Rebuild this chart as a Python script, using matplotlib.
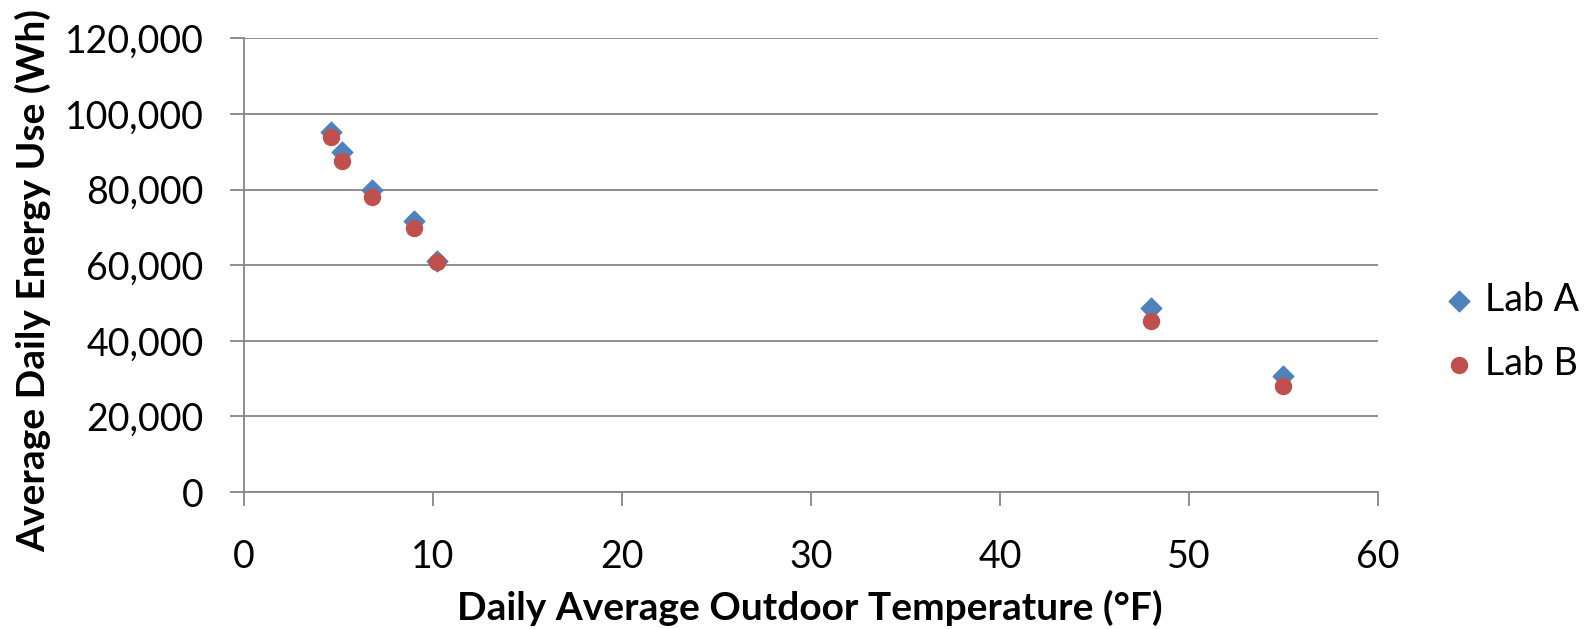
import matplotlib
matplotlib.use('Agg')
import matplotlib.pyplot as plt
from matplotlib.ticker import FuncFormatter

plt.rcParams['font.family'] = ['Lato', 'DejaVu Sans']

# Outdoor temperature (F)
temp = [4.6, 5.2, 6.8, 9.0, 10.2, 48.0, 55.0]
# Average daily energy use (Wh)
lab_a = [95300, 90000, 79900, 71700, 61000, 48600, 30700]
lab_b = [94000, 87600, 78100, 69800, 60800, 45100, 28000]

x_ticks = [0, 10, 20, 30, 40, 50, 60]
y_ticks = [0, 20000, 40000, 60000, 80000, 100000, 120000]

grid_col = '#868686'

fig = plt.figure(figsize=(15.87, 6.29), dpi=100)
ax = fig.add_axes([0.1537, 0.2178, 0.8683 - 0.1537, 0.9391 - 0.2178])

ax.scatter(temp, lab_a, marker='D', s=10.5**2, color='#4F81BD', label='Lab A', zorder=3)
ax.scatter(temp, lab_b, marker='o', s=11.5**2, color='#C0504D', label='Lab B', zorder=4)

ax.set_xlim(0, 60)
ax.set_ylim(0, 120000)
ax.set_xticks(x_ticks)
ax.set_yticks(y_ticks)
ax.yaxis.set_major_formatter(FuncFormatter(lambda v, p: f'{int(v):,}'))

ax.grid(True, axis='y', color=grid_col, linewidth=1.3, zorder=0)
ax.set_axisbelow(True)
for side in ['top', 'right']:
    ax.spines[side].set_visible(False)
for side in ['left', 'bottom']:
    ax.spines[side].set_color(grid_col)
    ax.spines[side].set_linewidth(1.3)

ax.tick_params(axis='both', colors=grid_col, labelcolor='black', labelsize=27,
               length=10, width=1.3, direction='out')
ax.tick_params(axis='y', pad=19)
ax.tick_params(axis='x', pad=24)

fig.text(33 / 1587, 1 - 280 / 629, 'Average Daily Energy Use (Wh)', rotation=90,
         ha='center', va='center', fontsize=28, fontweight='bold')
fig.text(810 / 1587, 1 - 608 / 629, 'Daily Average Outdoor Temperature (°F)',
         ha='center', va='center', fontsize=28, fontweight='bold')

fig.legend(loc='center left', bbox_to_anchor=(1440 / 1587, 1 - 332 / 629),
           frameon=False, fontsize=27, handletextpad=0.2, labelspacing=0.75,
           borderpad=0, borderaxespad=0, handlelength=1.0)

fig.savefig('out.png', dpi=100)
